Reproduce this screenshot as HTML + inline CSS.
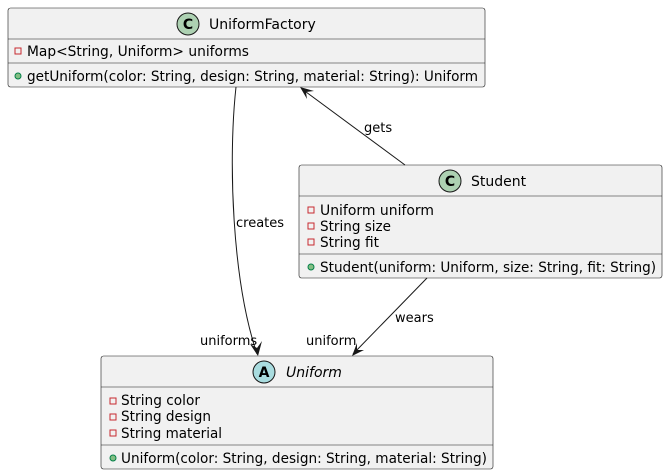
<!DOCTYPE html>
<html><head><meta charset="utf-8"><style>
html,body{margin:0;padding:0;background:#fff;}
svg{display:block;}
text{font-family:"DejaVu Sans","Liberation Sans",sans-serif;font-size:14px;fill:#000;}
.s{font-size:13px;}
.b{fill:#f1f1f1;stroke:#181818;stroke-width:0.6;}
.l{stroke:#181818;stroke-width:0.6;}
.e{fill:none;stroke:#181818;stroke-width:1;}
.pr{fill:none;stroke:#c82930;stroke-width:1;}
.pu{fill:#84be84;stroke:#038048;stroke-width:1;}
</style></head><body>
<svg width="668" height="475" viewBox="0 0 668 475" xmlns="http://www.w3.org/2000/svg">
<!-- UniformFactory -->
<rect class="b" x="8" y="8" width="477" height="79" rx="2.5"/>
<line class="l" x1="8" y1="39" x2="485" y2="39"/>
<line class="l" x1="8" y1="63" x2="485" y2="63"/>
<circle cx="188" cy="24" r="11" fill="#add1b2" stroke="#181818" stroke-width="1"/>
<text x="188" y="29" text-anchor="middle" style="font-weight:bold;font-size:14px">C</text>
<text x="209" y="29" style="font-size:14px">UniformFactory</text>
<rect class="pr" x="15" y="48" width="6" height="6"/>
<text x="27" y="56" textLength="222" lengthAdjust="spacingAndGlyphs">Map&lt;String, Uniform&gt; uniforms</text>
<circle class="pu" cx="18" cy="76" r="3"/>
<text x="27" y="81" textLength="451" lengthAdjust="spacingAndGlyphs">getUniform(color: String, design: String, material: String): Uniform</text>

<!-- Student -->
<rect class="b" x="299" y="165" width="363" height="113" rx="2.5"/>
<line class="l" x1="299" y1="196" x2="662" y2="196"/>
<line class="l" x1="299" y1="254" x2="662" y2="254"/>
<circle cx="450" cy="181" r="11" fill="#add1b2" stroke="#181818" stroke-width="1"/>
<text x="450" y="186" text-anchor="middle" style="font-weight:bold;font-size:14px">C</text>
<text x="471" y="186" style="font-size:14px">Student</text>
<rect class="pr" x="308" y="207" width="6" height="6"/>
<text x="320" y="215" textLength="114" lengthAdjust="spacingAndGlyphs">Uniform uniform</text>
<rect class="pr" x="308" y="223" width="6" height="6"/>
<text x="320" y="231" textLength="71" lengthAdjust="spacingAndGlyphs">String size</text>
<rect class="pr" x="308" y="239" width="6" height="6"/>
<text x="320" y="247" textLength="59" lengthAdjust="spacingAndGlyphs">String fit</text>
<circle class="pu" cx="311" cy="267" r="3"/>
<text x="320" y="272" textLength="336" lengthAdjust="spacingAndGlyphs">Student(uniform: Uniform, size: String, fit: String)</text>

<!-- Uniform -->
<rect class="b" x="101" y="356" width="392" height="113" rx="2.5"/>
<line class="l" x1="101" y1="387" x2="493" y2="387"/>
<line class="l" x1="101" y1="445" x2="493" y2="445"/>
<circle cx="264" cy="372" r="11" fill="#a9dcdf" stroke="#181818" stroke-width="1"/>
<text x="264" y="377" text-anchor="middle" style="font-weight:bold;font-size:14px">A</text>
<text x="286" y="377" style="font-size:14px;font-style:italic">Uniform</text>
<rect class="pr" x="110" y="398" width="6" height="6"/>
<text x="121" y="405" textLength="79" lengthAdjust="spacingAndGlyphs">String color</text>
<rect class="pr" x="110" y="414" width="6" height="6"/>
<text x="121" y="421" textLength="90" lengthAdjust="spacingAndGlyphs">String design</text>
<rect class="pr" x="110" y="430" width="6" height="6"/>
<text x="121" y="438" textLength="101" lengthAdjust="spacingAndGlyphs">String material</text>
<circle class="pu" cx="113" cy="458" r="3"/>
<text x="121" y="463" textLength="366" lengthAdjust="spacingAndGlyphs">Uniform(color: String, design: String, material: String)</text>

<!-- creates -->
<path class="e" d="M236,87 C228,160 232,280 257,354"/>
<path d="M258,356 L250,344 L257,348 L262,341 Z" fill="#181818"/>
<text class="s" x="236" y="227">creates</text>
<text class="s" x="200" y="345">uniforms</text>

<!-- gets -->
<line class="e" x1="405" y1="165" x2="302" y2="89"/>
<path d="M300,87 L314,91 L306,92 L307,99 Z" fill="#181818"/>
<text class="s" x="364" y="132">gets</text>

<!-- wears -->
<line class="e" x1="427" y1="278" x2="353" y2="354"/>
<path d="M352,356 L357,343 L357,350 L364,350 Z" fill="#181818"/>
<text class="s" x="395" y="322">wears</text>
<text class="s" x="306" y="345">uniform</text>
</svg>
</body></html>
